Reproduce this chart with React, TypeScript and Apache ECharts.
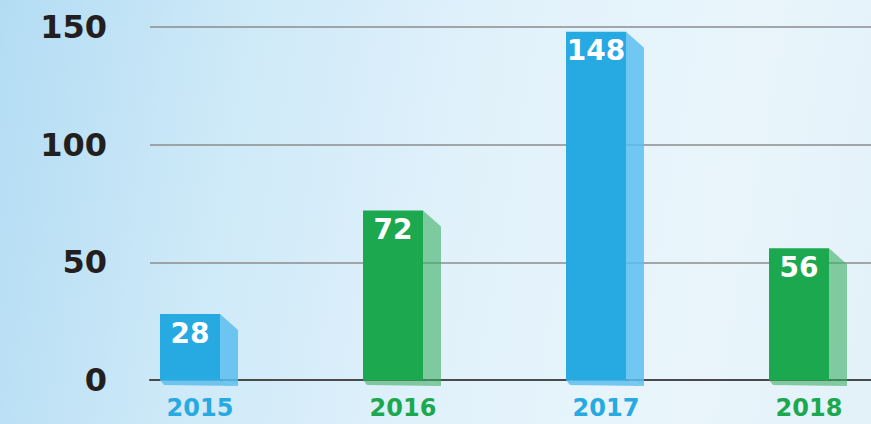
import React, { useEffect, useRef } from "react";
import * as echarts from "echarts";

const years = ["2015", "2016", "2017", "2018"];
const values = [28, 72, 148, 56];
const yMin = 0;
const yMax = 150;
const yInterval = 50;

const BLUE = "#27a9e1";
const BLUE_SIDE = "rgba(90,190,238,0.85)";
const GREEN = "#1ca84e";
const GREEN_SIDE = "rgba(60,175,100,0.6)";
const barColors = [BLUE, GREEN, BLUE, GREEN];
const sideColors = [BLUE_SIDE, GREEN_SIDE, BLUE_SIDE, GREEN_SIDE];
const FONT = "DejaVu Sans";

export default function App() {
  const ref = useRef<HTMLDivElement>(null);
  useEffect(() => {
    if (!ref.current) return;
    const chart = echarts.init(ref.current, undefined, { renderer: "svg" });
    chart.setOption({
      animation: false,
      grid: [
        { left: 150, right: 0, top: 27, bottom: 44 },
        { left: 200, right: 62, top: 27, bottom: 44 },
      ],
      xAxis: [
        {
          type: "value",
          gridIndex: 0,
          min: 0,
          max: 1,
          axisLine: { show: true, onZero: false, lineStyle: { color: "#4a4a4a", width: 2 } },
          axisTick: { show: false },
          axisLabel: { show: false },
          splitLine: { show: false },
        },
        {
          type: "category",
          gridIndex: 1,
          data: years,
          boundaryGap: false,
          axisLine: { show: false },
          axisTick: { show: false },
          axisLabel: {
            margin: 16,
            fontFamily: FONT,
            fontWeight: "bold",
            fontSize: 24,
            color: (_v: string, i: number) => barColors[i],
          },
        },
      ],
      yAxis: [
        {
          type: "value",
          gridIndex: 0,
          min: yMin,
          max: yMax,
          interval: yInterval,
          axisLine: { show: false },
          axisTick: { show: false },
          axisLabel: {
            margin: 43,
            fontFamily: FONT,
            fontWeight: "bold",
            fontSize: 32,
            color: "#231f20",
          },
          splitLine: { lineStyle: { color: "#8c8c8c", width: 1.5 } },
        },
        {
          type: "value",
          gridIndex: 1,
          min: yMin,
          max: yMax,
          interval: yInterval,
          show: false,
          splitLine: { show: false },
        },
      ],
      series: [
        {
          type: "custom",
          xAxisIndex: 1,
          yAxisIndex: 1,
          clip: false,
          data: values.map((v, i) => [i, v]),
          renderItem: (params: any, api: any) => {
            const idx = api.value(0);
            const val = api.value(1);
            const top = api.coord([idx, val]);
            const base = api.coord([idx, 0]);
            const c = top[0];
            const t = top[1];
            const b = base[1];
            const fl = c - 40;
            const fr = c + 20;
            const sr = c + 38;
            return {
              type: "group",
              children: [
                {
                  type: "polygon",
                  shape: {
                    points: [
                      [fl, b],
                      [fr, b],
                      [sr, b + 6],
                      [fl + 4, b + 5],
                    ],
                  },
                  style: { fill: sideColors[idx] },
                },
                {
                  type: "polygon",
                  shape: {
                    points: [
                      [fr, t],
                      [sr, t + 16],
                      [sr, b + 6],
                      [fr, b],
                    ],
                  },
                  style: { fill: sideColors[idx] },
                },
                {
                  type: "rect",
                  shape: { x: fl, y: t, width: fr - fl, height: b - t },
                  style: { fill: barColors[idx] },
                },
                {
                  type: "text",
                  style: {
                    text: String(val),
                    x: (fl + fr) / 2,
                    y: t + 5,
                    align: "center",
                    verticalAlign: "top",
                    fill: "#ffffff",
                    font: `bold 28px "${FONT}"`,
                  },
                },
              ],
            };
          },
        },
      ],
    });
    return () => chart.dispose();
  }, []);
  return (
    <div
      ref={ref}
      style={{
        position: "fixed",
        left: 0,
        top: 0,
        width: 871,
        height: 424,
        background:
          "linear-gradient(100deg, #b3dcf3 0%, #cde9f8 25%, #e2f2fb 55%, #e9f5fb 80%, #e3f1f9 100%)",
      }}
    />
  );
}
